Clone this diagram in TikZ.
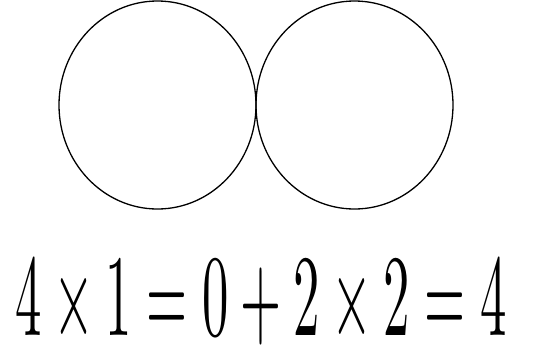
\documentclass[tikz,border=0pt]{standalone}
\usepackage{amsmath}
\usepackage{graphicx}
\usepackage{tikz}
\usetikzlibrary{shapes.geometric,positioning}

\begin{document}
\begin{tikzpicture}[
    x=1pt, y=-1pt,
    ring/.style={ellipse, draw, line width=1.3pt, inner sep=0pt, minimum width=197pt, minimum height=208pt},
    equation/.style={inner sep=0pt, anchor=base}
]
\useasboundingbox (0,0) rectangle (533,349);

% Two touching circles
\node[ring] (leftring) at (157.5, 105) {};
\node[ring] (rightring) at (354.5, 105) {};

% Equation
\node[equation] (sum) at (261, 335) {\scalebox{5.27}[11.6]{$4\times1=0+2\times2=4$}};

\end{tikzpicture}
\end{document}
